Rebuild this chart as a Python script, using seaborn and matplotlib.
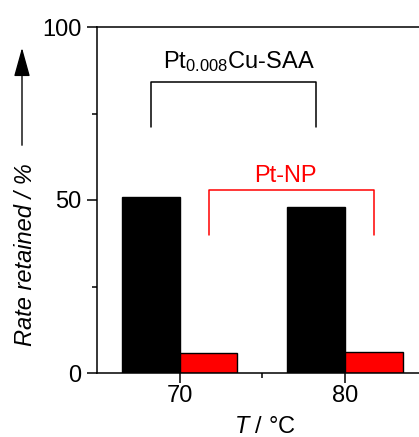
import pandas as pd
import matplotlib
matplotlib.use("Agg")
import matplotlib.pyplot as plt
import seaborn as sns
from matplotlib.patches import FancyArrowPatch

# data
temps = [70, 80]
saa_rate = [50.9, 48.0]
np_rate = [5.8, 6.1]
catalysts = ["Pt0.008Cu-SAA", "Pt-NP"]
bar_colors = ["black", "red"]

# bracket levels (top, leg end) for each catalyst
saa_bracket = [84.0, 71.0]
np_bracket = [53.0, 40.0]

df = pd.DataFrame({
    "T": temps * 2,
    "rate": saa_rate + np_rate,
    "catalyst": [catalysts[0]] * 2 + [catalysts[1]] * 2,
})

sns.set_style("ticks")
plt.rcParams["font.family"] = ["Liberation Sans", "DejaVu Sans"]
plt.rcParams["mathtext.fontset"] = "custom"
plt.rcParams["mathtext.rm"] = "Liberation Sans"
plt.rcParams["mathtext.it"] = "Liberation Sans:italic"
plt.rcParams["text.color"] = "black"
plt.rcParams["xtick.color"] = "black"
plt.rcParams["ytick.color"] = "black"
plt.rcParams["xtick.labelcolor"] = "black"
plt.rcParams["ytick.labelcolor"] = "black"

fig = plt.figure(figsize=(4.19, 4.37), dpi=100)
ax = fig.add_axes([97 / 419, 64 / 437, 330.5 / 419, 346 / 437])

width = 0.7
sns.barplot(data=df, x="T", y="rate", hue="catalyst", native_scale=True,
            width=width, palette=bar_colors, saturation=1, edgecolor="black",
            linewidth=1, dodge=True, legend=False, ax=ax)

ax.set_xlim(65, 85)
ax.set_ylim(0, 100)
ax.set_xticks([70, 80])
ax.set_xticks([75], minor=True)
ax.set_yticks([0, 50, 100])
ax.set_yticks([25, 75], minor=True)
ax.tick_params(axis="both", which="major", labelsize=17, length=7, width=1.1,
               direction="out", color="black", labelcolor="black")
ax.tick_params(axis="both", which="minor", length=3.5, width=1.1,
               direction="out", color="black")
ax.tick_params(axis="y", pad=4)
ax.tick_params(axis="x", pad=2)
ax.set_xlabel("")
ax.set_ylabel("")
for s in ax.spines.values():
    s.set_visible(True)
    s.set_linewidth(1.1)
    s.set_color("black")

# brackets over bar centres
off = width * 10 / 4
saa_x = [t - off for t in temps]
np_x = [t + off for t in temps]
ax.plot([saa_x[0], saa_x[0], saa_x[1], saa_x[1]],
        [saa_bracket[1], saa_bracket[0], saa_bracket[0], saa_bracket[1]],
        color="black", lw=1.1)
ax.plot([np_x[0], np_x[0], np_x[1], np_x[1]],
        [np_bracket[1], np_bracket[0], np_bracket[0], np_bracket[1]],
        color="red", lw=1.1)
ax.text(73.6, 88.2, r"Pt$_{0.008}$Cu-SAA", ha="center", va="baseline",
        fontsize=17, color="black")
ax.text(76.4, 55.2, "Pt-NP", ha="center", va="baseline", fontsize=17, color="red")

# axis labels
fig.text(25 / 419, 1 - 255 / 437, "Rate retained / %", rotation=90,
         ha="center", va="center", fontsize=17, style="italic", color="black")
fig.text(265 / 419, 1 - 427 / 437, r"$\mathit{T}$ / °C", ha="center",
         va="center", fontsize=17, color="black")
arrow = FancyArrowPatch((22 / 419, 1 - 148 / 437), (22 / 419, 1 - 45 / 437),
                        transform=fig.transFigure,
                        arrowstyle="-|>,head_length=0.9,head_width=0.25",
                        mutation_scale=20, color="black", lw=1.0)
fig.patches.append(arrow)

fig.savefig("out.png", dpi=100)
